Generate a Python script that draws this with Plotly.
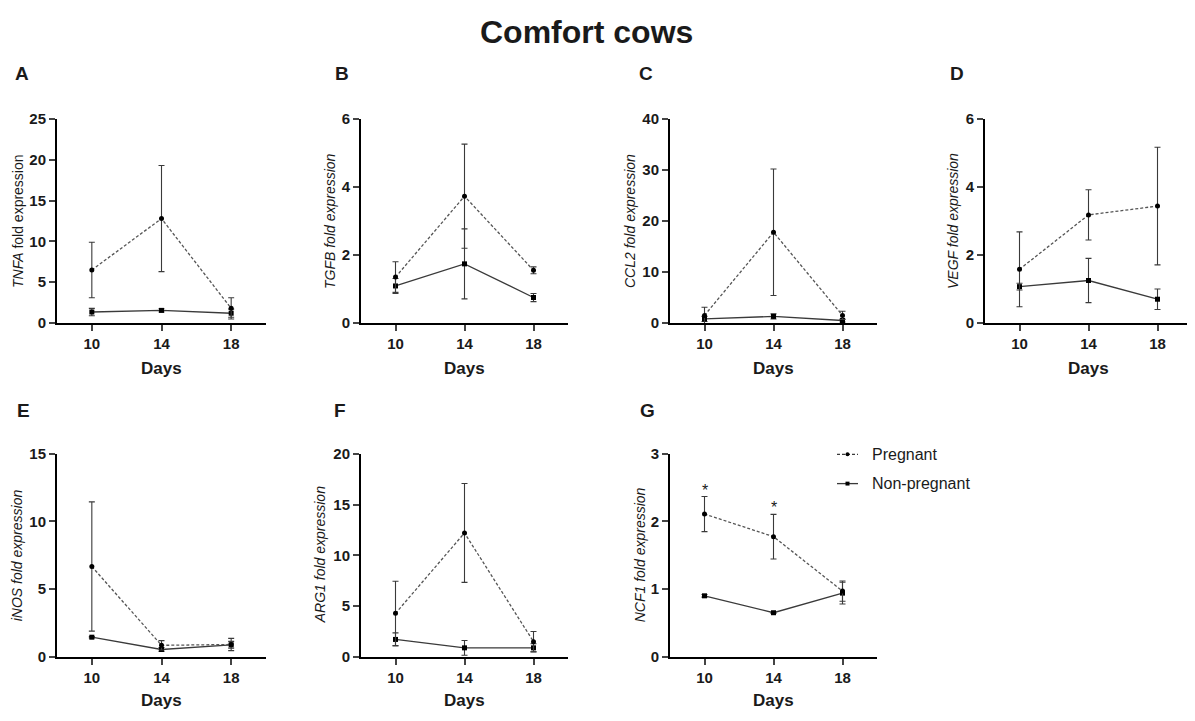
import plotly.graph_objects as go

# The page body has an 8px default margin; build the figure in reference pixel
# coordinates and shift by that margin so the picture lines up.
OFF = 8
W, H = 1195 - OFF, 721 - OFF


def px(x):
    return (x - OFF) / W


def py(y):
    return 1 - (y - OFF) / H


days = [10, 14, 18]
day_ticks = [10, 14, 18]

genes = ["TNFA", "TGFB", "CCL2", "VEGF", "iNOS", "ARG1", "NCF1"]
panel_letters = ["A", "B", "C", "D", "E", "F", "G"]
y_max = [25, 6, 40, 6, 15, 20, 3]
y_dtick = [5, 2, 10, 2, 5, 5, 1]

tnfa_preg = [6.5, 12.8, 1.8]
tnfa_preg_err = [3.4, 6.5, 1.3]
tnfa_non = [1.35, 1.55, 1.2]
tnfa_non_err = [0.45, 0.2, 0.5]

tgfb_preg = [1.35, 3.73, 1.55]
tgfb_preg_err = [0.45, 1.53, 0.1]
tgfb_non = [1.09, 1.74, 0.75]
tgfb_non_err = [0.22, 1.03, 0.12]

ccl2_preg = [1.5, 17.8, 1.5]
ccl2_preg_err = [1.6, 12.4, 0.8]
ccl2_non = [0.8, 1.3, 0.5]
ccl2_non_err = [0.5, 0.5, 0.3]

vegf_preg = [1.58, 3.18, 3.44]
vegf_preg_err = [1.1, 0.74, 1.73]
vegf_non = [1.07, 1.25, 0.7]
vegf_non_err = [0.1, 0.65, 0.3]

inos_preg = [6.67, 0.84, 0.9]
inos_preg_err = [4.78, 0.35, 0.45]
inos_non = [1.44, 0.53, 0.88]
inos_non_err = [0.05, 0.15, 0.25]

arg1_preg = [4.27, 12.2, 1.48]
arg1_preg_err = [3.17, 4.87, 1.0]
arg1_non = [1.7, 0.87, 0.87]
arg1_non_err = [0.65, 0.73, 0.4]

ncf1_preg = [2.11, 1.775, 0.97]
ncf1_preg_err = [0.26, 0.33, 0.15]
ncf1_non = [0.9, 0.65, 0.94]
ncf1_non_err = [0.02, 0.01, 0.16]

preg_series = [tnfa_preg, tgfb_preg, ccl2_preg, vegf_preg, inos_preg, arg1_preg, ncf1_preg]
preg_errs = [tnfa_preg_err, tgfb_preg_err, ccl2_preg_err, vegf_preg_err, inos_preg_err, arg1_preg_err, ncf1_preg_err]
non_series = [tnfa_non, tgfb_non, ccl2_non, vegf_non, inos_non, arg1_non, ncf1_non]
non_errs = [tnfa_non_err, tgfb_non_err, ccl2_non_err, vegf_non_err, inos_non_err, arg1_non_err, ncf1_non_err]

# significance markers (panel G)
sig_days = [10, 14]
sig_y = [2.46, 2.2]

# layout geometry in reference pixels
col_x = [(57, 266), (361, 568), (670, 877), (985, 1192)]
row_y = [(112.5, 321.5), (455.5, 663.3)]
ytitle_x = [18, 330, 630, 953, 17, 320, 640]
letter_x = [13, 333, 637, 948, 15, 332, 638]
letter_y = [66, 66, 66, 66, 411, 411, 411]
days_y = [368, 708]

FONT = "Liberation Sans, Arial, Helvetica, sans-serif"
TXT = "#1a1a1a"
LINE = "#3a3a3a"

fig = go.Figure()
layout = dict(
    width=W, height=H, margin=dict(l=0, r=0, t=0, b=0),
    paper_bgcolor="white", plot_bgcolor="white", showlegend=False,
    font=dict(family=FONT, color=TXT),
)
annotations = []
shapes = []

for i, g in enumerate(genes):
    row = 0 if i < 4 else 1
    col = i if i < 4 else i - 4
    xa = "x" if i == 0 else f"x{i+1}"
    ya = "y" if i == 0 else f"y{i+1}"
    x0, x1 = col_x[col]
    yt, yb = row_y[row]
    layout[f"xaxis{'' if i == 0 else i+1}"] = dict(
        domain=[px(x0), min(px(x1), 1.0)], anchor=ya, range=[8, 20],
        tickvals=day_ticks, ticks="outside", ticklen=6, tickwidth=2,
        showline=True, linewidth=2, linecolor="black", showgrid=False, zeroline=False,
        tickfont=dict(size=15, family=FONT, color=TXT, weight="bold"),
        fixedrange=True,
    )
    layout[f"yaxis{'' if i == 0 else i+1}"] = dict(
        domain=[py(yb), py(yt)], anchor=xa, range=[0, y_max[i]],
        dtick=y_dtick[i], tick0=0, ticks="outside", ticklen=6, tickwidth=2,
        showline=True, linewidth=2, linecolor="black", showgrid=False, zeroline=False,
        tickfont=dict(size=15, family=FONT, color=TXT, weight="bold"),
        fixedrange=True,
    )
    fig.add_trace(go.Scatter(
        x=days, y=non_series[i], xaxis=xa, yaxis=ya, mode="lines+markers",
        name="Non-pregnant", cliponaxis=False,
        line=dict(color=LINE, width=1.3),
        marker=dict(symbol="square", size=5, color="black"),
        error_y=dict(type="data", array=non_errs[i], visible=True, color=LINE, thickness=1.1, width=3),
    ))
    fig.add_trace(go.Scatter(
        x=days, y=preg_series[i], xaxis=xa, yaxis=ya, mode="lines+markers",
        name="Pregnant", cliponaxis=False,
        line=dict(color="#555555", width=1.3, dash="3px,2px"),
        marker=dict(symbol="circle", size=5, color="black"),
        error_y=dict(type="data", array=preg_errs[i], visible=True, color=LINE, thickness=1.1, width=3),
    ))
    # y-axis title
    if i == 0:
        ytxt = f"<i>{g}</i> fold expression"
    else:
        ytxt = f"<i>{g} fold expression</i>"
    annotations.append(dict(
        text=ytxt, xref="paper", yref="paper", x=px(ytitle_x[i]), y=py((yt + yb) / 2),
        textangle=-90, showarrow=False, xanchor="center", yanchor="middle",
        font=dict(size=14, family=FONT, color=TXT),
    ))
    # x-axis title
    annotations.append(dict(
        text="<b>Days</b>", xref="paper", yref="paper", x=px((x0 + x1) / 2), y=py(days_y[row]),
        showarrow=False, xanchor="center", yanchor="middle",
        font=dict(size=17, family=FONT, color=TXT),
    ))
    # panel letter
    annotations.append(dict(
        text=f"<b>{panel_letters[i]}</b>", xref="paper", yref="paper",
        x=px(letter_x[i]), y=py(letter_y[i]), showarrow=False,
        xanchor="left", yanchor="middle", font=dict(size=19, family=FONT, color=TXT),
    ))

# significance asterisks on panel G
for d, yv in zip(sig_days, sig_y):
    annotations.append(dict(
        text="*", xref="x7", yref="y7", x=d, y=yv, showarrow=False,
        xanchor="center", yanchor="middle", font=dict(size=16, family=FONT, color=TXT),
    ))

# main title
annotations.append(dict(
    text="<b>Comfort cows</b>", xref="paper", yref="paper", x=px(586), y=py(23),
    showarrow=False, xanchor="center", yanchor="middle",
    font=dict(size=32, family=FONT, color=TXT),
))

# legend (drawn manually)
leg_items = [("Pregnant", 456, "3px,2px", "circle"), ("Non-pregnant", 486, "solid", "square")]
for label, ly, dash, sym in leg_items:
    shapes.append(dict(type="line", xref="paper", yref="paper",
                       x0=px(837), x1=px(858), y0=py(ly), y1=py(ly),
                       line=dict(color=LINE, width=1.3, dash=dash)))
    shapes.append(dict(type="circle" if sym == "circle" else "rect", xref="paper", yref="paper",
                       x0=px(845.5), x1=px(849.5), y0=py(ly + 2), y1=py(ly - 2),
                       fillcolor="black", line=dict(color="black", width=0)))
    annotations.append(dict(
        text=label, xref="paper", yref="paper", x=px(870), y=py(ly),
        showarrow=False, xanchor="left", yanchor="middle",
        font=dict(size=16, family=FONT, color=TXT),
    ))

layout["annotations"] = annotations
layout["shapes"] = shapes
fig.update_layout(**layout)
fig.write_html("out.html")
